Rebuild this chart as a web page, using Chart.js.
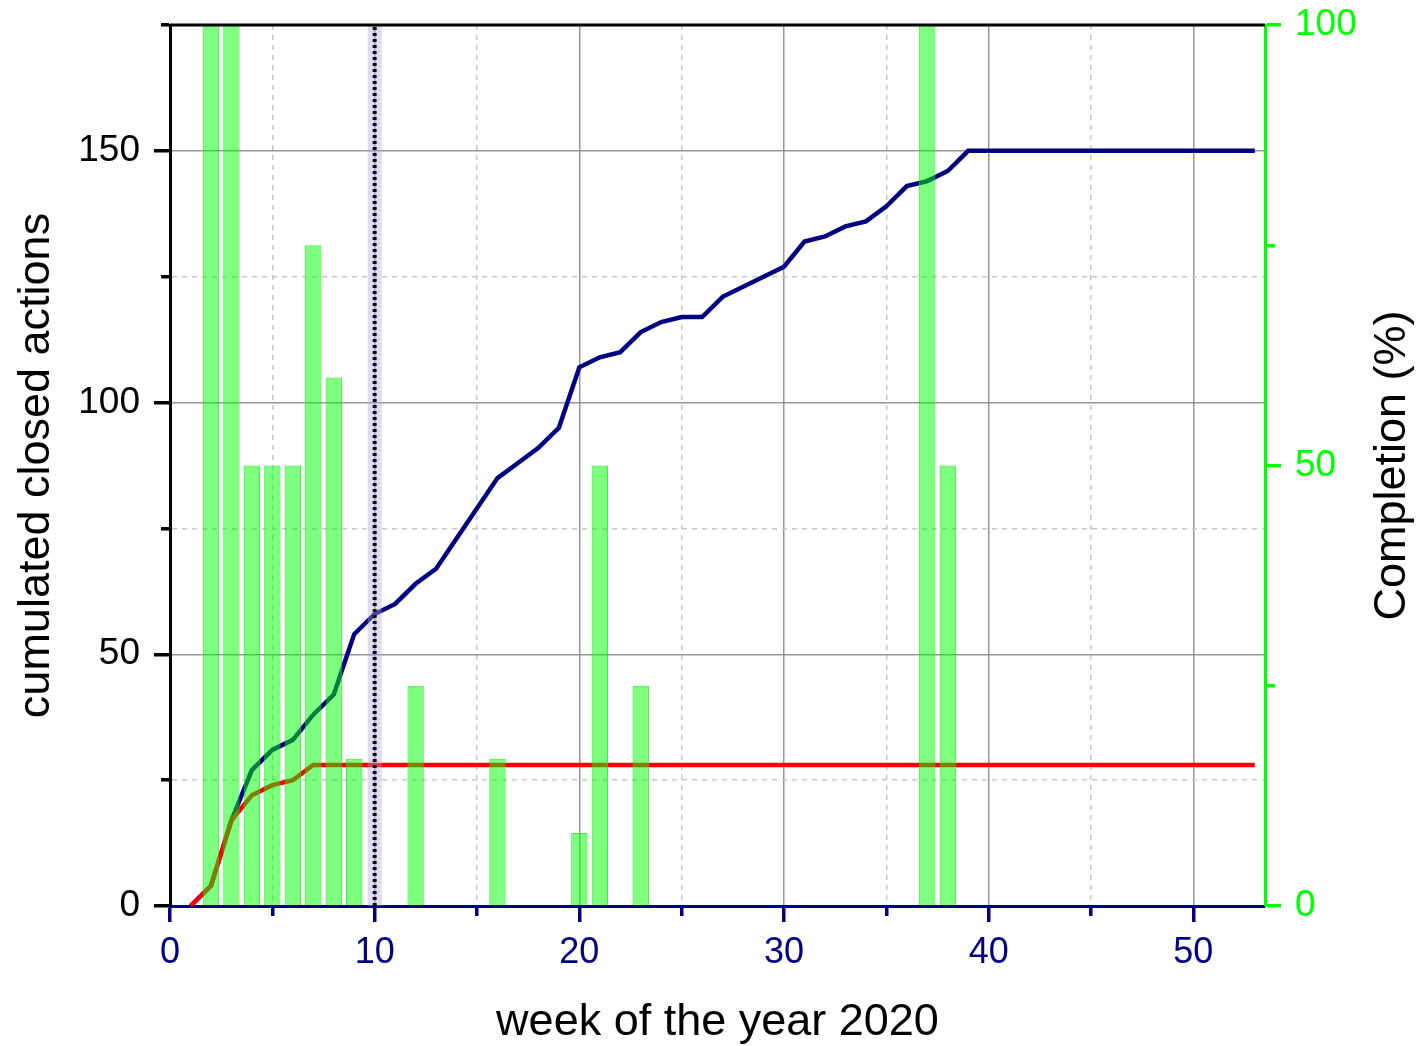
<!DOCTYPE html>
<html>
<head>
<meta charset="utf-8">
<script src="https://cdn.jsdelivr.net/npm/chart.js@4.4.1/dist/chart.umd.min.js"></script>
<style>
  body { margin: 0; background: #fff; }
  #wrap { width: 1426px; height: 1046px; }
</style>
</head>
<body>
<div id="wrap"><canvas id="myChart" width="1426" height="1046"></canvas></div>
<script>
// Week numbers (x) and the two cumulated series (left axis)
const weeks = [1, 2, 3, 4, 5, 6, 7, 8, 9, 10, 11, 12, 13, 14, 15, 16, 17, 18, 19, 20,
  21, 22, 23, 24, 25, 26, 27, 28, 29, 30, 31, 32, 33, 34, 35, 36, 37, 38, 39, 40,
  41, 42, 43, 44, 45, 46, 47, 48, 49, 50, 51, 52, 53];
const closedBlue = [0, 4, 17, 27, 31, 33, 38, 42, 54, 58, 60, 64, 67, 73, 79, 85, 88, 91, 95, 107,
  109, 110, 114, 116, 117, 117, 121, 123, 125, 127, 132, 133, 135, 136, 139, 143, 144, 146, 150, 150,
  150, 150, 150, 150, 150, 150, 150, 150, 150, 150, 150, 150, 150];
const closedRed = [0, 4, 17, 22, 24, 25, 28, 28, 28, 28, 28, 28, 28, 28, 28, 28, 28, 28, 28, 28,
  28, 28, 28, 28, 28, 28, 28, 28, 28, 28, 28, 28, 28, 28, 28, 28, 28, 28, 28, 28,
  28, 28, 28, 28, 28, 28, 28, 28, 28, 28, 28, 28, 28];

// Completion bars (right axis, %)
const barWeeks = [2, 3, 4, 5, 6, 7, 8, 9, 12, 16, 20, 21, 23, 37, 38];
const completion = [100, 100, 50, 50, 50, 75, 60, 16.7, 25, 16.7, 8.3, 50, 25, 100, 50];

// Vertical marker
const markerWeek = 10;

// Axis ranges
const xRange = [0, 53.5];
const leftRange = [0, 175];
const rightRange = [0, 100];

Chart.defaults.font.family = "'Liberation Sans', Arial, sans-serif";

const canvas = document.getElementById('myChart');
const ctx = canvas.getContext('2d');

const toPoints = (xs, ys) => xs.map((x, i) => ({ x: x, y: ys[i] }));

const majorGrid = 'rgba(140,140,140,0.9)';
const minorGrid = 'rgba(200,200,200,1)';

// minorDash: dash pattern that keeps only the inner part of a minor tick
function gridStyle(majorStep, minorDash) {
  return {
    color: c => (c.tick && c.tick.value % majorStep !== 0) ? minorGrid : majorGrid,
    lineWidth: 1.5,
    tickLength: 16,
    tickWidth: 3.5,
    tickBorderDash: c => (c.tick && c.tick.value % majorStep !== 0) ? minorDash : []
  };
}

// drop the extra room Chart.js keeps for half tick labels at the ends
function noEndPadding(s) {
  s.paddingTop = 0;
  s.paddingBottom = 0;
  s.paddingLeft = 0;
  s.paddingRight = 0;
}

const extras = {
  id: 'extras',
  afterDraw(chart) {
    const { ctx, chartArea } = chart;
    ctx.save();
    // top frame
    ctx.strokeStyle = '#000';
    ctx.lineWidth = 3;
    ctx.beginPath();
    ctx.moveTo(chartArea.left, chartArea.top);
    ctx.lineTo(chartArea.right, chartArea.top);
    ctx.stroke();
    // right axis title, reading upward
    ctx.translate(chart.width - 33, (chartArea.top + chartArea.bottom) / 2);
    ctx.rotate(-Math.PI / 2);
    ctx.font = "45px 'Liberation Sans', Arial, sans-serif";
    ctx.fillStyle = '#000';
    ctx.textAlign = 'center';
    ctx.textBaseline = 'middle';
    ctx.fillText('Completion (%)', 0, 0);
    ctx.restore();
  }
};

const chart = new Chart(ctx, {
  type: 'bar',
  data: {
    datasets: [
      {
        type: 'line',
        data: [{ x: markerWeek, y: leftRange[0] }, { x: markerWeek, y: leftRange[1] }],
        yAxisID: 'y',
        borderColor: '#111',
        borderWidth: 4,
        borderDash: [3, 3],
        borderCapStyle: 'butt',
        pointRadius: 0,
        order: -2
      },
      {
        type: 'line',
        data: [{ x: markerWeek, y: leftRange[0] }, { x: markerWeek, y: leftRange[1] }],
        yAxisID: 'y',
        borderColor: 'rgba(170,170,215,0.4)',
        borderWidth: 14,
        pointRadius: 0,
        order: -1
      },
      {
        type: 'bar',
        data: toPoints(barWeeks, completion),
        yAxisID: 'y1',
        backgroundColor: 'rgba(0,255,0,0.5)',
        borderColor: 'rgba(0,235,0,0.75)',
        borderWidth: 1,
        barPercentage: 0.8,
        categoryPercentage: 1,
        order: 0
      },
      {
        type: 'line',
        data: toPoints(weeks, closedRed),
        yAxisID: 'y',
        borderColor: '#ff0000',
        borderWidth: 4.5,
        pointRadius: 0,
        tension: 0,
        order: 1
      },
      {
        type: 'line',
        data: toPoints(weeks, closedBlue),
        yAxisID: 'y',
        borderColor: '#000080',
        borderWidth: 4.5,
        pointRadius: 0,
        tension: 0,
        order: 2
      }
    ]
  },
  options: {
    responsive: false,
    animation: false,
    layout: { padding: { top: 25, left: 0, right: 0, bottom: 0 } },
    plugins: {
      legend: { display: false },
      tooltip: { enabled: false }
    },
    scales: {
      x: {
        type: 'linear',
        position: 'bottom',
        min: xRange[0],
        max: xRange[1],
        offset: false,
        afterFit: s => { noEndPadding(s); s.height = 140; },
        grid: Object.assign(gridStyle(10, [8, 100]), { offset: false, tickColor: '#000080' }),
        border: {
          color: '#000080',
          width: 3,
          dash: c => (c.tick && c.tick.value % 10 !== 0) ? [5, 5] : []
        },
        ticks: {
          stepSize: 5,
          includeBounds: false,
          maxRotation: 0,
          autoSkip: false,
          color: '#000080',
          font: { size: 36 },
          padding: 9,
          callback: v => (v % 10 === 0 ? v : '')
        },
        title: {
          display: true,
          text: 'week of the year 2020',
          color: '#000',
          font: { size: 45 },
          padding: { top: 0, bottom: -4 }
        }
      },
      y: {
        type: 'linear',
        position: 'left',
        min: leftRange[0],
        max: leftRange[1],
        afterFit: s => { noEndPadding(s); s.width = 170; },
        grid: Object.assign(gridStyle(50, [0, 7, 9, 100]), { tickColor: '#000' }),
        border: {
          color: '#000',
          width: 3,
          dash: c => (c.tick && c.tick.value % 50 !== 0) ? [5, 5] : []
        },
        ticks: {
          stepSize: 25,
          includeBounds: false,
          autoSkip: false,
          color: '#000',
          font: { size: 37 },
          padding: 14,
          callback: v => (v % 50 === 0 ? v : '')
        },
        title: {
          display: true,
          text: 'cumulated closed actions',
          color: '#000',
          font: { size: 45 },
          padding: { top: 10, bottom: 0 }
        }
      },
      y1: {
        type: 'linear',
        position: 'right',
        min: rightRange[0],
        max: rightRange[1],
        afterFit: s => { noEndPadding(s); s.width = 161; },
        grid: Object.assign(gridStyle(50, [8, 100]), { drawOnChartArea: false, tickColor: '#00ff00' }),
        border: { color: '#00ff00', width: 3 },
        ticks: {
          stepSize: 25,
          includeBounds: false,
          autoSkip: false,
          color: '#00ff00',
          font: { size: 37 },
          padding: 14,
          callback: v => (v % 50 === 0 ? v : '')
        }
      }
    }
  },
  plugins: [extras]
});
</script>
</body>
</html>
